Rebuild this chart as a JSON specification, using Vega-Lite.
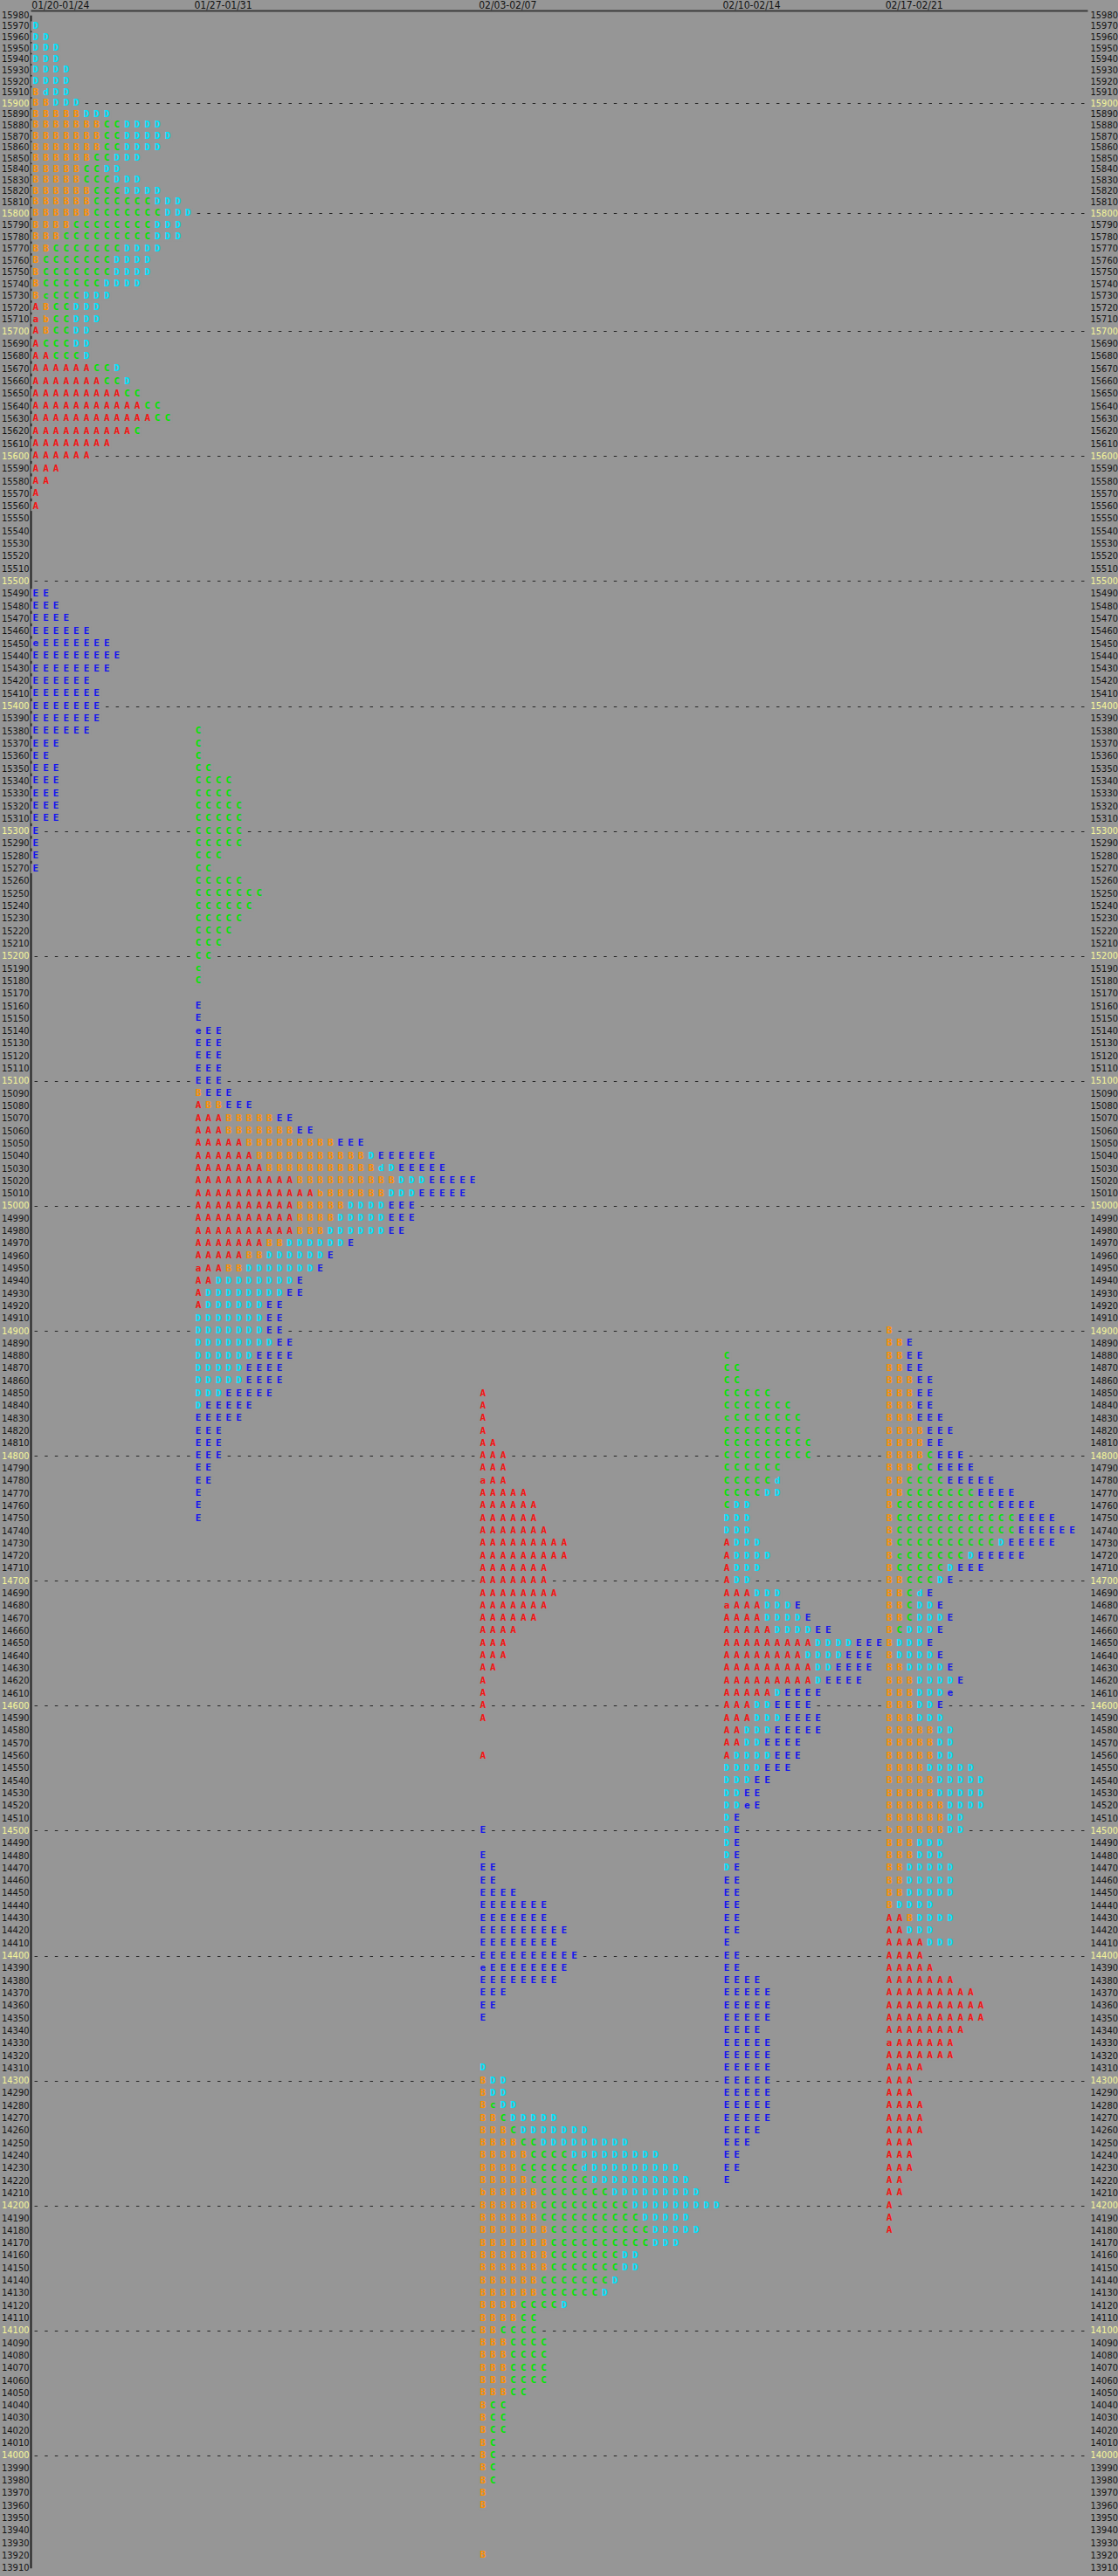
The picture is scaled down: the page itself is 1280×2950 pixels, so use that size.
{
"$schema":"https://vega.github.io/schema/vega-lite/v6.json",
"width":1210,"height":2938,
"autosize":{"type":"none"},
"padding":{"left":35,"top":12,"right":35,"bottom":0},
"background":"#969696",
"config":{"view":{"stroke":null}},
"data":{"values":[
{"w":"01/20-01/24","p":15970,"s":"D"},{"w":"01/20-01/24","p":15960,"s":"DD"},{"w":"01/20-01/24","p":15950,"s":"DDD"},{"w":"01/20-01/24","p":15940,"s":"DDD"},{"w":"01/20-01/24","p":15930,"s":"DDDD"},{"w":"01/20-01/24","p":15920,"s":"DDDD"},{"w":"01/20-01/24","p":15910,"s":"BdDD"},{"w":"01/20-01/24","p":15900,"s":"BBDDD"},{"w":"01/20-01/24","p":15890,"s":"BBBBBDDD"},{"w":"01/20-01/24","p":15880,"s":"BBBBBBBCCDDDD"},{"w":"01/20-01/24","p":15870,"s":"BBBBBBBCCDDDDD"},{"w":"01/20-01/24","p":15860,"s":"BBBBBBBCCDDDD"},{"w":"01/20-01/24","p":15850,"s":"BBBBBBCCDDD"},{"w":"01/20-01/24","p":15840,"s":"BBBBBCCDD"},{"w":"01/20-01/24","p":15830,"s":"BBBBBCCCDDD"},{"w":"01/20-01/24","p":15820,"s":"BBBBBBCCCDDDD"},{"w":"01/20-01/24","p":15810,"s":"BBBBBBCCCCCCDDD"},{"w":"01/20-01/24","p":15800,"s":"BBBBBBCCCCCCCDDD"},{"w":"01/20-01/24","p":15790,"s":"BBBBCCCCCCCCDDD"},{"w":"01/20-01/24","p":15780,"s":"BBBCCCCCCCCCDDD"},{"w":"01/20-01/24","p":15770,"s":"BBCCCCCCCDDDD"},{"w":"01/20-01/24","p":15760,"s":"BCCCCCCCDDDD"},{"w":"01/20-01/24","p":15750,"s":"BCCCCCCCDDDD"},{"w":"01/20-01/24","p":15740,"s":"BCCCCCCDDDD"},{"w":"01/20-01/24","p":15730,"s":"BcCCCDDD"},{"w":"01/20-01/24","p":15720,"s":"ABCCDDD"},{"w":"01/20-01/24","p":15710,"s":"abCCDDD"},{"w":"01/20-01/24","p":15700,"s":"ABCCDD"},{"w":"01/20-01/24","p":15690,"s":"ACCCDD"},{"w":"01/20-01/24","p":15680,"s":"AACCCD"},{"w":"01/20-01/24","p":15670,"s":"AAAAAACCD"},{"w":"01/20-01/24","p":15660,"s":"AAAAAAACCD"},{"w":"01/20-01/24","p":15650,"s":"AAAAAAAAACC"},{"w":"01/20-01/24","p":15640,"s":"AAAAAAAAAAACC"},{"w":"01/20-01/24","p":15630,"s":"AAAAAAAAAAAACC"},{"w":"01/20-01/24","p":15620,"s":"AAAAAAAAAAC"},{"w":"01/20-01/24","p":15610,"s":"AAAAAAAA"},{"w":"01/20-01/24","p":15600,"s":"AAAAAA"},{"w":"01/20-01/24","p":15590,"s":"AAA"},{"w":"01/20-01/24","p":15580,"s":"AA"},{"w":"01/20-01/24","p":15570,"s":"A"},{"w":"01/20-01/24","p":15560,"s":"A"},
{"w":"01/20-01/24","p":15490,"s":"EE"},{"w":"01/20-01/24","p":15480,"s":"EEE"},{"w":"01/20-01/24","p":15470,"s":"EEEE"},{"w":"01/20-01/24","p":15460,"s":"EEEEEE"},{"w":"01/20-01/24","p":15450,"s":"eEEEEEEE"},{"w":"01/20-01/24","p":15440,"s":"EEEEEEEEE"},{"w":"01/20-01/24","p":15430,"s":"EEEEEEEE"},{"w":"01/20-01/24","p":15420,"s":"EEEEEE"},{"w":"01/20-01/24","p":15410,"s":"EEEEEEE"},{"w":"01/20-01/24","p":15400,"s":"EEEEEEE"},{"w":"01/20-01/24","p":15390,"s":"EEEEEEE"},{"w":"01/20-01/24","p":15380,"s":"EEEEEE"},{"w":"01/20-01/24","p":15370,"s":"EEE"},{"w":"01/20-01/24","p":15360,"s":"EE"},{"w":"01/20-01/24","p":15350,"s":"EEE"},{"w":"01/20-01/24","p":15340,"s":"EEE"},{"w":"01/20-01/24","p":15330,"s":"EEE"},{"w":"01/20-01/24","p":15320,"s":"EEE"},{"w":"01/20-01/24","p":15310,"s":"EEE"},{"w":"01/20-01/24","p":15300,"s":"E"},{"w":"01/20-01/24","p":15290,"s":"E"},{"w":"01/20-01/24","p":15280,"s":"E"},{"w":"01/20-01/24","p":15270,"s":"E"},
{"w":"01/27-01/31","p":15380,"s":"C"},{"w":"01/27-01/31","p":15370,"s":"C"},{"w":"01/27-01/31","p":15360,"s":"C"},{"w":"01/27-01/31","p":15350,"s":"CC"},{"w":"01/27-01/31","p":15340,"s":"CCCC"},{"w":"01/27-01/31","p":15330,"s":"CCCC"},{"w":"01/27-01/31","p":15320,"s":"CCCCC"},{"w":"01/27-01/31","p":15310,"s":"CCCCC"},{"w":"01/27-01/31","p":15300,"s":"CCCCC"},{"w":"01/27-01/31","p":15290,"s":"CCCCC"},{"w":"01/27-01/31","p":15280,"s":"CCC"},{"w":"01/27-01/31","p":15270,"s":"CC"},{"w":"01/27-01/31","p":15260,"s":"CCCCC"},{"w":"01/27-01/31","p":15250,"s":"CCCCCCC"},{"w":"01/27-01/31","p":15240,"s":"CCCCCC"},{"w":"01/27-01/31","p":15230,"s":"CCCCC"},{"w":"01/27-01/31","p":15220,"s":"CCCC"},{"w":"01/27-01/31","p":15210,"s":"CCC"},{"w":"01/27-01/31","p":15200,"s":"CC"},{"w":"01/27-01/31","p":15190,"s":"c"},{"w":"01/27-01/31","p":15180,"s":"C"},
{"w":"01/27-01/31","p":15160,"s":"E"},{"w":"01/27-01/31","p":15150,"s":"E"},{"w":"01/27-01/31","p":15140,"s":"eEE"},{"w":"01/27-01/31","p":15130,"s":"EEE"},{"w":"01/27-01/31","p":15120,"s":"EEE"},{"w":"01/27-01/31","p":15110,"s":"EEE"},{"w":"01/27-01/31","p":15100,"s":"EEE"},{"w":"01/27-01/31","p":15090,"s":"BEEE"},{"w":"01/27-01/31","p":15080,"s":"ABBEEE"},{"w":"01/27-01/31","p":15070,"s":"AAABBBBBEE"},{"w":"01/27-01/31","p":15060,"s":"AAABBBBBBBEE"},{"w":"01/27-01/31","p":15050,"s":"AAAAABBBBBBBBBEEE"},{"w":"01/27-01/31","p":15040,"s":"AAAAAABBBBBBBBBBBDEEEEEE"},{"w":"01/27-01/31","p":15030,"s":"AAAAAAABBBBBBBBBBBdDEEEEE"},{"w":"01/27-01/31","p":15020,"s":"AAAAAAAAAABBBBBBBBBBDDDEEEEE"},{"w":"01/27-01/31","p":15010,"s":"AAAAAAAAAAAAbBBBBBBDDDEEEEE"},{"w":"01/27-01/31","p":15000,"s":"AAAAAAAAAABBBBBDDDDEEE"},{"w":"01/27-01/31","p":14990,"s":"AAAAAAAAAABBBBDDDDDEEE"},{"w":"01/27-01/31","p":14980,"s":"AAAAAAAAAABBBDDDDDDEE"},{"w":"01/27-01/31","p":14970,"s":"AAAAAAABBDDDDDDE"},{"w":"01/27-01/31","p":14960,"s":"AAAAABBDDDDDDE"},{"w":"01/27-01/31","p":14950,"s":"aAABBDDDDDDDE"},{"w":"01/27-01/31","p":14940,"s":"AADDDDDDDDE"},{"w":"01/27-01/31","p":14930,"s":"ADDDDDDDDEE"},{"w":"01/27-01/31","p":14920,"s":"ADDDDDDEE"},{"w":"01/27-01/31","p":14910,"s":"DDDDDDDEE"},{"w":"01/27-01/31","p":14900,"s":"DDDDDDDEE"},{"w":"01/27-01/31","p":14890,"s":"DDDDDDDDEE"},{"w":"01/27-01/31","p":14880,"s":"DDDDDDEEEE"},{"w":"01/27-01/31","p":14870,"s":"DDDDDEEEE"},{"w":"01/27-01/31","p":14860,"s":"DDDDDEEEE"},{"w":"01/27-01/31","p":14850,"s":"DDDEEEEE"},{"w":"01/27-01/31","p":14840,"s":"DEEEEE"},{"w":"01/27-01/31","p":14830,"s":"EEEEE"},{"w":"01/27-01/31","p":14820,"s":"EEE"},{"w":"01/27-01/31","p":14810,"s":"EEE"},{"w":"01/27-01/31","p":14800,"s":"EEE"},{"w":"01/27-01/31","p":14790,"s":"EE"},{"w":"01/27-01/31","p":14780,"s":"EE"},{"w":"01/27-01/31","p":14770,"s":"E"},{"w":"01/27-01/31","p":14760,"s":"E"},{"w":"01/27-01/31","p":14750,"s":"E"},
{"w":"02/03-02/07","p":14850,"s":"A"},{"w":"02/03-02/07","p":14840,"s":"A"},{"w":"02/03-02/07","p":14830,"s":"A"},{"w":"02/03-02/07","p":14820,"s":"A"},{"w":"02/03-02/07","p":14810,"s":"AA"},{"w":"02/03-02/07","p":14800,"s":"AAA"},{"w":"02/03-02/07","p":14790,"s":"AAA"},{"w":"02/03-02/07","p":14780,"s":"aAA"},{"w":"02/03-02/07","p":14770,"s":"AAAAA"},{"w":"02/03-02/07","p":14760,"s":"AAAAAA"},{"w":"02/03-02/07","p":14750,"s":"AAAAAA"},{"w":"02/03-02/07","p":14740,"s":"AAAAAAA"},{"w":"02/03-02/07","p":14730,"s":"AAAAAAAAA"},{"w":"02/03-02/07","p":14720,"s":"AAAAAAAAA"},{"w":"02/03-02/07","p":14710,"s":"AAAAAAA"},{"w":"02/03-02/07","p":14700,"s":"AAAAAAA"},{"w":"02/03-02/07","p":14690,"s":"AAAAAAAA"},{"w":"02/03-02/07","p":14680,"s":"AAAAAAA"},{"w":"02/03-02/07","p":14670,"s":"AAAAAA"},{"w":"02/03-02/07","p":14660,"s":"AAAA"},{"w":"02/03-02/07","p":14650,"s":"AAA"},{"w":"02/03-02/07","p":14640,"s":"AAA"},{"w":"02/03-02/07","p":14630,"s":"AA"},{"w":"02/03-02/07","p":14620,"s":"A"},{"w":"02/03-02/07","p":14610,"s":"A"},{"w":"02/03-02/07","p":14600,"s":"A"},{"w":"02/03-02/07","p":14590,"s":"A"},{"w":"02/03-02/07","p":14560,"s":"A"},
{"w":"02/03-02/07","p":14500,"s":"E"},{"w":"02/03-02/07","p":14480,"s":"E"},{"w":"02/03-02/07","p":14470,"s":"EE"},{"w":"02/03-02/07","p":14460,"s":"EE"},{"w":"02/03-02/07","p":14450,"s":"EEEE"},{"w":"02/03-02/07","p":14440,"s":"EEEEEEE"},{"w":"02/03-02/07","p":14430,"s":"EEEEEEE"},{"w":"02/03-02/07","p":14420,"s":"EEEEEEEEE"},{"w":"02/03-02/07","p":14410,"s":"EEEEEEEE"},{"w":"02/03-02/07","p":14400,"s":"EEEEEEEEEE"},{"w":"02/03-02/07","p":14390,"s":"eEEEEEEEE"},{"w":"02/03-02/07","p":14380,"s":"EEEEEEEE"},{"w":"02/03-02/07","p":14370,"s":"EEE"},{"w":"02/03-02/07","p":14360,"s":"EE"},{"w":"02/03-02/07","p":14350,"s":"E"},
{"w":"02/03-02/07","p":14310,"s":"D"},{"w":"02/03-02/07","p":14300,"s":"BDD"},{"w":"02/03-02/07","p":14290,"s":"BDD"},{"w":"02/03-02/07","p":14280,"s":"BcDD"},{"w":"02/03-02/07","p":14270,"s":"BBCDDDDD"},{"w":"02/03-02/07","p":14260,"s":"BBBCDDDDDDD"},{"w":"02/03-02/07","p":14250,"s":"BBBBCCDDDDDDDDD"},{"w":"02/03-02/07","p":14240,"s":"BBBBBCCCCDDDDDDDDD"},{"w":"02/03-02/07","p":14230,"s":"BBBBCCCCCCdDDDDDDDDD"},{"w":"02/03-02/07","p":14220,"s":"BBBBBCCCCCCDDDDDDDDDD"},{"w":"02/03-02/07","p":14210,"s":"bBBBBBCCCCCCCDDDDDDDDD"},{"w":"02/03-02/07","p":14200,"s":"BBBBBBCCCCCCCCCDDDDDDDDD"},{"w":"02/03-02/07","p":14190,"s":"BBBBBBCCCCCCCCCCDDDDD"},{"w":"02/03-02/07","p":14180,"s":"BBBBBBBCCCCCCCCCCDDDDD"},{"w":"02/03-02/07","p":14170,"s":"BBBBBBBCCCCCCCCCCDDD"},{"w":"02/03-02/07","p":14160,"s":"BBBBBBBCCCCCCCDD"},{"w":"02/03-02/07","p":14150,"s":"BBBBBBBCCCCCCCDD"},{"w":"02/03-02/07","p":14140,"s":"BBBBBBCCCCCCCD"},{"w":"02/03-02/07","p":14130,"s":"BBBBBBCCCCCCD"},{"w":"02/03-02/07","p":14120,"s":"BBBBCCCCD"},{"w":"02/03-02/07","p":14110,"s":"BBBBCC"},{"w":"02/03-02/07","p":14100,"s":"BBCCCC"},{"w":"02/03-02/07","p":14090,"s":"BBBCCCC"},{"w":"02/03-02/07","p":14080,"s":"BBBCCCC"},{"w":"02/03-02/07","p":14070,"s":"BBBCCCC"},{"w":"02/03-02/07","p":14060,"s":"BBBCCCC"},{"w":"02/03-02/07","p":14050,"s":"BBBCC"},{"w":"02/03-02/07","p":14040,"s":"BCC"},{"w":"02/03-02/07","p":14030,"s":"BCC"},{"w":"02/03-02/07","p":14020,"s":"BCC"},{"w":"02/03-02/07","p":14010,"s":"BC"},{"w":"02/03-02/07","p":14000,"s":"BC"},{"w":"02/03-02/07","p":13990,"s":"BC"},{"w":"02/03-02/07","p":13980,"s":"BC"},{"w":"02/03-02/07","p":13970,"s":"B"},{"w":"02/03-02/07","p":13960,"s":"B"},{"w":"02/03-02/07","p":13920,"s":"B"},
{"w":"02/10-02/14","p":14880,"s":"C"},{"w":"02/10-02/14","p":14870,"s":"CC"},{"w":"02/10-02/14","p":14860,"s":"CC"},{"w":"02/10-02/14","p":14850,"s":"CCCCC"},{"w":"02/10-02/14","p":14840,"s":"CCCCCCC"},{"w":"02/10-02/14","p":14830,"s":"cCCCCCCC"},{"w":"02/10-02/14","p":14820,"s":"CCCCCCCC"},{"w":"02/10-02/14","p":14810,"s":"CCCCCCCCC"},{"w":"02/10-02/14","p":14800,"s":"CCCCCCCCC"},{"w":"02/10-02/14","p":14790,"s":"CCCCCC"},{"w":"02/10-02/14","p":14780,"s":"CCCCCd"},{"w":"02/10-02/14","p":14770,"s":"CCCCDD"},{"w":"02/10-02/14","p":14760,"s":"CDD"},{"w":"02/10-02/14","p":14750,"s":"DDD"},{"w":"02/10-02/14","p":14740,"s":"DDD"},{"w":"02/10-02/14","p":14730,"s":"ADDD"},{"w":"02/10-02/14","p":14720,"s":"ADDDD"},{"w":"02/10-02/14","p":14710,"s":"ADDD"},{"w":"02/10-02/14","p":14700,"s":"ADD"},{"w":"02/10-02/14","p":14690,"s":"AAADDD"},{"w":"02/10-02/14","p":14680,"s":"aAAADDDE"},{"w":"02/10-02/14","p":14670,"s":"AAAADDDDE"},{"w":"02/10-02/14","p":14660,"s":"AAAAADDDDEE"},{"w":"02/10-02/14","p":14650,"s":"AAAAAAAAADDDDEEE"},{"w":"02/10-02/14","p":14640,"s":"AAAAAAAADDDDEEE"},{"w":"02/10-02/14","p":14630,"s":"AAAAAAAAADDEEEE"},{"w":"02/10-02/14","p":14620,"s":"AAAAAAAAADEEEE"},{"w":"02/10-02/14","p":14610,"s":"AAAAADEEEE"},{"w":"02/10-02/14","p":14600,"s":"AAADDEEEE"},{"w":"02/10-02/14","p":14590,"s":"AAADDDEEEE"},{"w":"02/10-02/14","p":14580,"s":"AADDDEEEEE"},{"w":"02/10-02/14","p":14570,"s":"AADDEEEE"},{"w":"02/10-02/14","p":14560,"s":"ADDDDEEE"},{"w":"02/10-02/14","p":14550,"s":"DDDDEEE"},{"w":"02/10-02/14","p":14540,"s":"DDDEE"},{"w":"02/10-02/14","p":14530,"s":"DDEE"},{"w":"02/10-02/14","p":14520,"s":"DDeE"},{"w":"02/10-02/14","p":14510,"s":"DE"},{"w":"02/10-02/14","p":14500,"s":"DE"},{"w":"02/10-02/14","p":14490,"s":"DE"},{"w":"02/10-02/14","p":14480,"s":"DE"},{"w":"02/10-02/14","p":14470,"s":"DE"},{"w":"02/10-02/14","p":14460,"s":"EE"},{"w":"02/10-02/14","p":14450,"s":"EE"},{"w":"02/10-02/14","p":14440,"s":"EE"},{"w":"02/10-02/14","p":14430,"s":"EE"},{"w":"02/10-02/14","p":14420,"s":"EE"},{"w":"02/10-02/14","p":14410,"s":"E"},{"w":"02/10-02/14","p":14400,"s":"EE"},{"w":"02/10-02/14","p":14390,"s":"EE"},{"w":"02/10-02/14","p":14380,"s":"EEEE"},{"w":"02/10-02/14","p":14370,"s":"EEEEE"},{"w":"02/10-02/14","p":14360,"s":"EEEEE"},{"w":"02/10-02/14","p":14350,"s":"EEEEE"},{"w":"02/10-02/14","p":14340,"s":"EEEE"},{"w":"02/10-02/14","p":14330,"s":"EEEEE"},{"w":"02/10-02/14","p":14320,"s":"EEEEE"},{"w":"02/10-02/14","p":14310,"s":"EEEEE"},{"w":"02/10-02/14","p":14300,"s":"EEEEE"},{"w":"02/10-02/14","p":14290,"s":"EEEEE"},{"w":"02/10-02/14","p":14280,"s":"EEEEE"},{"w":"02/10-02/14","p":14270,"s":"EEEEE"},{"w":"02/10-02/14","p":14260,"s":"EEEE"},{"w":"02/10-02/14","p":14250,"s":"EEE"},{"w":"02/10-02/14","p":14240,"s":"EE"},{"w":"02/10-02/14","p":14230,"s":"EE"},{"w":"02/10-02/14","p":14220,"s":"E"},
{"w":"02/17-02/21","p":14900,"s":"B"},{"w":"02/17-02/21","p":14890,"s":"BBE"},{"w":"02/17-02/21","p":14880,"s":"BBEE"},{"w":"02/17-02/21","p":14870,"s":"BBEE"},{"w":"02/17-02/21","p":14860,"s":"BBBEE"},{"w":"02/17-02/21","p":14850,"s":"BBBEE"},{"w":"02/17-02/21","p":14840,"s":"BBBEE"},{"w":"02/17-02/21","p":14830,"s":"BBBEEE"},{"w":"02/17-02/21","p":14820,"s":"BBBBEEE"},{"w":"02/17-02/21","p":14810,"s":"BBBBEE"},{"w":"02/17-02/21","p":14800,"s":"BBBBCEEE"},{"w":"02/17-02/21","p":14790,"s":"BBBCCEEEE"},{"w":"02/17-02/21","p":14780,"s":"BBCCCCEEEEE"},{"w":"02/17-02/21","p":14770,"s":"BBCCCCCCCEEEE"},{"w":"02/17-02/21","p":14760,"s":"BCCCCCCCCCCEEEE"},{"w":"02/17-02/21","p":14750,"s":"BCCCCCCCCCCCCEEEE"},{"w":"02/17-02/21","p":14740,"s":"BCCCCCCCCCCCCEEEEEE"},{"w":"02/17-02/21","p":14730,"s":"BCCCCCCCCCCDEEEEE"},{"w":"02/17-02/21","p":14720,"s":"BcCCCCCCDEEEEE"},{"w":"02/17-02/21","p":14710,"s":"BCCCCCDEEE"},{"w":"02/17-02/21","p":14700,"s":"BBCCCDE"},{"w":"02/17-02/21","p":14690,"s":"BBCdE"},{"w":"02/17-02/21","p":14680,"s":"BBCDDE"},{"w":"02/17-02/21","p":14670,"s":"BBCDDDE"},{"w":"02/17-02/21","p":14660,"s":"BCDDDE"},{"w":"02/17-02/21","p":14650,"s":"BDDDE"},{"w":"02/17-02/21","p":14640,"s":"BDDDDE"},{"w":"02/17-02/21","p":14630,"s":"BBDDDDE"},{"w":"02/17-02/21","p":14620,"s":"BBBDDDDE"},{"w":"02/17-02/21","p":14610,"s":"BBBDDDe"},{"w":"02/17-02/21","p":14600,"s":"BBBDDE"},{"w":"02/17-02/21","p":14590,"s":"BBBDDD"},{"w":"02/17-02/21","p":14580,"s":"BBBBBDD"},{"w":"02/17-02/21","p":14570,"s":"BBBBBDD"},{"w":"02/17-02/21","p":14560,"s":"BBBBBDD"},{"w":"02/17-02/21","p":14550,"s":"BBBBDDDDD"},{"w":"02/17-02/21","p":14540,"s":"BBBBBDDDDD"},{"w":"02/17-02/21","p":14530,"s":"BBBBBDDDDD"},{"w":"02/17-02/21","p":14520,"s":"BBBBBBDDDD"},{"w":"02/17-02/21","p":14510,"s":"BBBBBBDD"},{"w":"02/17-02/21","p":14500,"s":"bBBBBBDD"},{"w":"02/17-02/21","p":14490,"s":"BBBDDD"},{"w":"02/17-02/21","p":14480,"s":"BBBDDD"},{"w":"02/17-02/21","p":14470,"s":"BBDDDDD"},{"w":"02/17-02/21","p":14460,"s":"BBDDDDD"},{"w":"02/17-02/21","p":14450,"s":"BBDDDDD"},{"w":"02/17-02/21","p":14440,"s":"BDDDD"},{"w":"02/17-02/21","p":14430,"s":"AABDDDD"},{"w":"02/17-02/21","p":14420,"s":"AADDD"},{"w":"02/17-02/21","p":14410,"s":"AAAADDD"},{"w":"02/17-02/21","p":14400,"s":"AAAA"},{"w":"02/17-02/21","p":14390,"s":"AAAAA"},{"w":"02/17-02/21","p":14380,"s":"AAAAAAA"},{"w":"02/17-02/21","p":14370,"s":"AAAAAAAAA"},{"w":"02/17-02/21","p":14360,"s":"AAAAAAAAAA"},{"w":"02/17-02/21","p":14350,"s":"AAAAAAAAAA"},{"w":"02/17-02/21","p":14340,"s":"AAAAAAAA"},{"w":"02/17-02/21","p":14330,"s":"aAAAAAA"},{"w":"02/17-02/21","p":14320,"s":"AAAAAAA"},{"w":"02/17-02/21","p":14310,"s":"AAAA"},{"w":"02/17-02/21","p":14300,"s":"AAA"},{"w":"02/17-02/21","p":14290,"s":"AAA"},{"w":"02/17-02/21","p":14280,"s":"AAAA"},{"w":"02/17-02/21","p":14270,"s":"AAAA"},{"w":"02/17-02/21","p":14260,"s":"AAAA"},{"w":"02/17-02/21","p":14250,"s":"AAA"},{"w":"02/17-02/21","p":14240,"s":"AAA"},{"w":"02/17-02/21","p":14230,"s":"AAA"},{"w":"02/17-02/21","p":14220,"s":"AA"},{"w":"02/17-02/21","p":14210,"s":"AA"},{"w":"02/17-02/21","p":14200,"s":"A"},{"w":"02/17-02/21","p":14190,"s":"A"},{"w":"02/17-02/21","p":14180,"s":"A"}
]},
"transform":[
{"calculate":"datum.w === '01/20-01/24' ? length(datum.s) : 0","as":"n1"},
{"calculate":"datum.w === '01/27-01/31' ? length(datum.s) : 0","as":"n2"},
{"calculate":"datum.w === '02/03-02/07' ? length(datum.s) : 0","as":"n3"},
{"calculate":"datum.w === '02/10-02/14' ? length(datum.s) : 0","as":"n4"},
{"joinaggregate":[{"op":"max","field":"n1","as":"m1"},{"op":"max","field":"n2","as":"m2"},{"op":"max","field":"n3","as":"m3"},{"op":"max","field":"n4","as":"m4"}]},
{"calculate":"(datum.w > '01/20-01/24' ? datum.m1 : 0) + (datum.w > '01/27-01/31' ? datum.m2 : 0) + (datum.w > '02/03-02/07' ? datum.m3 : 0) + (datum.w > '02/10-02/14' ? datum.m4 : 0)","as":"off"}
],
"layer":[
{
"transform":[
{"calculate":"split(datum.s, '')","as":"ch"},
{"flatten":["ch"]},
{"window":[{"op":"row_number","as":"i"}],"groupby":["w","p"]},
{"calculate":"datum.off + datum.i - 1","as":"col"}
],
"mark":{"type":"point","shape":"square","size":121,"filled":true,"fill":"#969696","strokeWidth":0,"opacity":1},
"encoding":{
"x":{"field":"col","type":"quantitative","scale":{"domain":[-0.5,103.5],"nice":false,"zero":false},"axis":{"orient":"top","title":null,"labels":false,"ticks":false,"grid":false,"domainColor":"#3c3c3c","domainWidth":2}},
"y":{"field":"p","type":"quantitative","scale":{"domain":[15980,15900,15800,15700,13910],"range":[5.3,106.3,232,367.3,2928.7],"nice":false,"zero":false},
"axis":{"orient":"right","title":null,"tickCount":208,"format":"d","ticks":false,"tickSize":0,"labelPadding":3,"labelAlign":"left","labelFont":"Liberation Sans Narrow, DejaVu Sans Condensed, sans-serif","labelFontSize":11,"labelColor":{"condition":{"test":"datum.value % 100 === 0","value":"#f6f69a"},"value":"#111111"},"labelOverlap":false,"labelFlush":false,"labelBound":false,"domain":false,"grid":false}}
}
},
{
"transform":[
{"calculate":"split(datum.s, '')","as":"ch"},
{"flatten":["ch"]},
{"window":[{"op":"row_number","as":"i"}],"groupby":["w","p"]},
{"calculate":"datum.off + datum.i - 1","as":"col"},
{"calculate":"upper(datum.ch)","as":"L"}
],
"mark":{"type":"text","font":"DejaVu Sans Mono","fontWeight":"bold","fontSize":11,"align":"center","baseline":"middle"},
"encoding":{
"x":{"field":"col","type":"quantitative","scale":{"domain":[-0.5,103.5],"nice":false,"zero":false},"axis":{"orient":"top","title":null,"labels":false,"ticks":false,"grid":false,"domainColor":"#3c3c3c","domainWidth":2}},
"y":{"field":"p","type":"quantitative","scale":{"domain":[15980,15900,15800,15700,13910],"range":[5.3,106.3,232,367.3,2928.7],"nice":false,"zero":false},
"axis":{"orient":"left","title":null,"tickCount":208,"format":"d","ticks":false,"tickSize":0,"labelPadding":2,"labelFont":"Liberation Sans Narrow, DejaVu Sans Condensed, sans-serif","labelFontSize":11,"labelColor":{"condition":{"test":"datum.value % 100 === 0","value":"#f6f69a"},"value":"#111111"},"labelOverlap":false,"labelFlush":false,"labelBound":false,"domainColor":"#1e1e1e","domainWidth":2,"grid":true,"gridColor":"#262626","gridWidth":1,"gridOpacity":{"condition":{"test":"datum.value % 100 === 0","value":1},"value":0},"gridDash":[3.5,8.135],"gridDashOffset":7.565}},
"text":{"field":"ch"},
"color":{"field":"L","type":"nominal","scale":{"domain":["A","B","C","D","E"],"range":["#f41414","#ff9000","#00e600","#00e4ff","#1414f0"]},"legend":null}
}
},
{
"transform":[{"aggregate":[{"op":"min","field":"off","as":"off"}],"groupby":["w"]}],
"mark":{"type":"text","align":"left","baseline":"middle","dx":-4.5,"font":"Liberation Sans Narrow, DejaVu Sans Condensed, sans-serif","fontSize":12,"color":"#111111"},
"encoding":{
"x":{"field":"off","type":"quantitative","scale":{"domain":[-0.5,103.5],"nice":false,"zero":false},"axis":{"orient":"top","title":null,"labels":false,"ticks":false,"grid":false,"domainColor":"#3c3c3c","domainWidth":2}},
"y":{"value":-6},
"text":{"field":"w"}
}
}
],
"resolve":{"axis":{"y":"independent"}}
}
